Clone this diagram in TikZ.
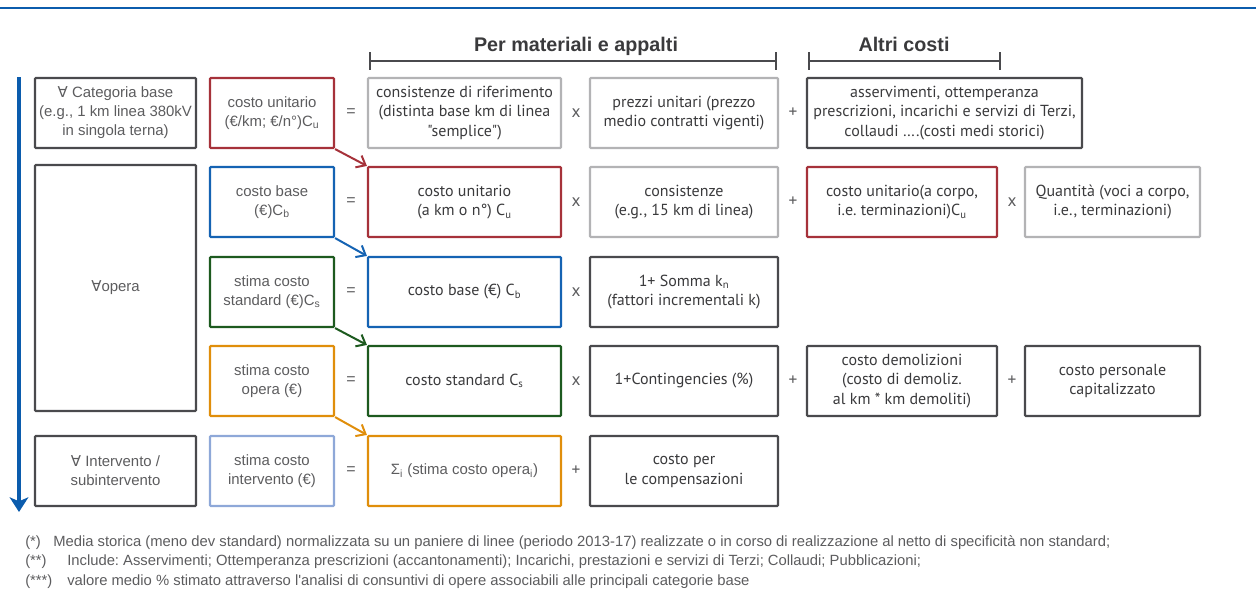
\documentclass[tikz,border=0pt]{standalone}
\usepackage{fontspec}
\setmainfont[Ligatures=TeXOff]{PT Sans}
\newfontfamily\helv{Liberation Sans}
\newfontfamily\symf{DejaVu Sans}
\usetikzlibrary{arrows.meta}
\frenchspacing
\definecolor{flowblue}{HTML}{0B5CAD}
\definecolor{boxgray}{HTML}{4A4A4D}
\definecolor{boxred}{HTML}{A6323A}
\definecolor{boxblue}{HTML}{1563B3}
\definecolor{boxgreen}{HTML}{1D5A1F}
\definecolor{boxorange}{HTML}{E08E0B}
\definecolor{boxlblue}{HTML}{8EA8D8}
\definecolor{boxlgray}{HTML}{B3B3B5}
\definecolor{txtgray}{HTML}{5C5C5E}
\definecolor{txtdark}{HTML}{3A3A3C}
\newcommand{\forallsym}{{\symf ∀}}
\begin{document}
\begin{tikzpicture}[x=0.75pt,y=-0.75pt,
  cbox/.style={draw=#1,line width=1.6pt,inner sep=2pt,align=center,minimum height=52.5pt,rounded corners=0.6pt},
  wA/.style={minimum width=120.75pt},
  wB/.style={minimum width=93pt},
  wC/.style={minimum width=144.75pt},
  wD/.style={minimum width=141pt},
  wE/.style={minimum width=142.5pt},
  wF/.style={minimum width=131.25pt},
  lt/.style={font=\helv\fontsize{11.2}{14.2}\selectfont,text=txtgray},
  dt/.style={font=\fontsize{12}{14.8}\selectfont,text=txtdark},
  opl/.style={font=\helv\fontsize{12}{14}\selectfont,text=txtgray},
  opd/.style={font=\fontsize{13}{14}\selectfont,text=txtgray},
  head/.style={font=\helv\bfseries\fontsize{14.8}{18}\selectfont,text=txtdark},
  fn/.style={font=\helv\fontsize{11.1}{13}\selectfont,text=txtgray,inner sep=0pt},
  link/.style={line width=1.5pt,-{Straight Barb[length=6pt,width=10pt]}},
  bracket/.style={draw=boxgray,line width=1.5pt,{Bar[width=13pt]}-{Bar[width=13pt]}}]
\useasboundingbox (0,0) rectangle (1256,614);

% top rule
\coordinate (ruleL) at (0,8);
\coordinate (ruleR) at (1256,8);
\draw[flowblue,line width=1.8pt] (ruleL) -- (ruleR);

% headings with brackets
\node[head,anchor=base] (hmat) at (576,51) {Per materiali e appalti};
\node[head,anchor=base] (haltri) at (904,51) {Altri costi};
\coordinate (bmL) at (369,61);
\coordinate (bmR) at (777,61);
\draw[bracket] (bmL) -- (bmR);
\coordinate (baL) at (808,61);
\coordinate (baR) at (1001,61);
\draw[bracket] (baL) -- (baR);

% flow arrow on the left
\coordinate (flowtop) at (19,77);
\coordinate (flowend) at (19,512);
\draw[flowblue,line width=3pt,-{Stealth[length=11pt,width=14pt,inset=3pt]}] (flowtop) -- (flowend);

% scope column
\node[cbox=boxgray,wA,lt] (catbase) at (115.5,113) {\forallsym{} Categoria base\\(e.g., 1 km linea 380kV\\in singola terna)};
\node[cbox=boxgray,wA,lt,minimum height=184.5pt] (opera) at (115.5,288) {\forallsym{}opera};
\node[cbox=boxgray,wA,lt] (interv) at (115.5,471) {\forallsym{} Intervento /\\subintervento};

% left hand sides
\node[cbox=boxred,wB,lt] (cu) at (272,113) {costo unitario\\(€/km; €/n°)C\textsubscript{u}};
\node[cbox=boxblue,wB,lt] (cb) at (272,202) {costo base\\(€)C\textsubscript{b}};
\node[cbox=boxgreen,wB,lt] (cs) at (272,292) {stima costo\\standard (€)C\textsubscript{s}};
\node[cbox=boxorange,wB,lt] (co) at (272,381) {stima costo\\opera (€)};
\node[cbox=boxlblue,wB,lt] (ci) at (272,471) {stima costo\\intervento (€)};

% first factor
\node[cbox=boxlgray,wC,dt] (cons) at (464.5,113) {consistenze di riferimento\\(distinta base km di linea\\"semplice")};
\node[cbox=boxred,wC,dt] (cunit) at (464.5,202) {costo unitario\\(a km o n°) C\textsubscript{u}};
\node[cbox=boxblue,wC,dt] (cbase) at (464.5,292) {costo base (€) C\textsubscript{b}};
\node[cbox=boxgreen,wC,dt] (cstd) at (464.5,381) {costo standard C\textsubscript{s}};
\node[cbox=boxorange,wC,lt] (sumop) at (464.5,471) {Σ\textsubscript{i} (stima costo opera\textsubscript{i})};

% second factor
\node[cbox=boxlgray,wD,dt] (prezzi) at (684,113) {prezzi unitari (prezzo\\medio contratti vigenti)};
\node[cbox=boxlgray,wD,dt] (consist) at (684,202) {consistenze\\(e.g., 15 km di linea)};
\node[cbox=boxgray,wD,dt] (kfact) at (684,292) {1+ Somma k\textsubscript{n}\\(fattori incrementali k)};
\node[cbox=boxgray,wD,dt] (conting) at (684,381) {1+Contingencies (\%)};
\node[cbox=boxgray,wD,dt] (comp) at (684,471) {costo per\\le compensazioni};

% other costs
\node[cbox=boxgray,minimum width=206.25pt,dt] (altri) at (944.5,113) {asservimenti, ottemperanza\\prescrizioni, incarichi e servizi di Terzi,\\collaudi ….(costi medi storici)};
\node[cbox=boxred,wE,dt] (cucorpo) at (902,202) {costo unitario(a corpo,\\i.e. terminazioni)C\textsubscript{u}};
\node[cbox=boxgray,wE,dt] (demol) at (902,381) {costo demolizioni\\(costo di demoliz.\\al km * km demoliti)};
\node[cbox=boxlgray,wF,dt] (quant) at (1112.5,202) {Quantità (voci a corpo,\\i.e., terminazioni)};
\node[cbox=boxgray,wF,dt] (pers) at (1112.5,381) {costo personale\\capitalizzato};

% operators
\foreach \r/\y in {1/113,2/202,3/292,4/381,5/471}
  \node[opl] (eq\r) at (351,\y) {=};
\foreach \r/\y in {1/113,2/202,3/292,4/381}
  \node[opd] (mul\r) at (576,\y) {x};
\node[opd] (add5) at (576,471) {+};
\foreach \r/\y in {1/113,2/202,4/381}
  \node[opd] (addc\r) at (793,\y) {+};
\node[opd] (mulq2) at (1012,202) {x};
\node[opd] (addp4) at (1012,381) {+};

% results carried to the next row
\draw[link,boxred] (cu.south east) -- (cunit.north west);
\draw[link,boxblue] (cb.south east) -- (cbase.north west);
\draw[link,boxgreen] (cs.south east) -- (cstd.north west);
\draw[link,boxorange] (co.south east) -- (sumop.north west);

% footnotes
\node[fn,anchor=west] (fn1l) at (25,543) {(*)};
\node[fn,anchor=west] (fn1) at (53,543) {Media storica (meno dev standard) normalizzata su un paniere di linee (periodo 2013-17) realizzate o in corso di realizzazione al netto di specificità non standard;};
\node[fn,anchor=west] (fn2l) at (25,562) {(**)};
\node[fn,anchor=west] (fn2) at (67,562) {Include: Asservimenti; Ottemperanza prescrizioni (accantonamenti); Incarichi, prestazioni e servizi di Terzi; Collaudi; Pubblicazioni;};
\node[fn,anchor=west] (fn3l) at (25,582) {(***)};
\node[fn,anchor=west] (fn3) at (67,582) {valore medio \% stimato attraverso l'analisi di consuntivi di opere associabili alle principali categorie base};
\end{tikzpicture}
\end{document}
